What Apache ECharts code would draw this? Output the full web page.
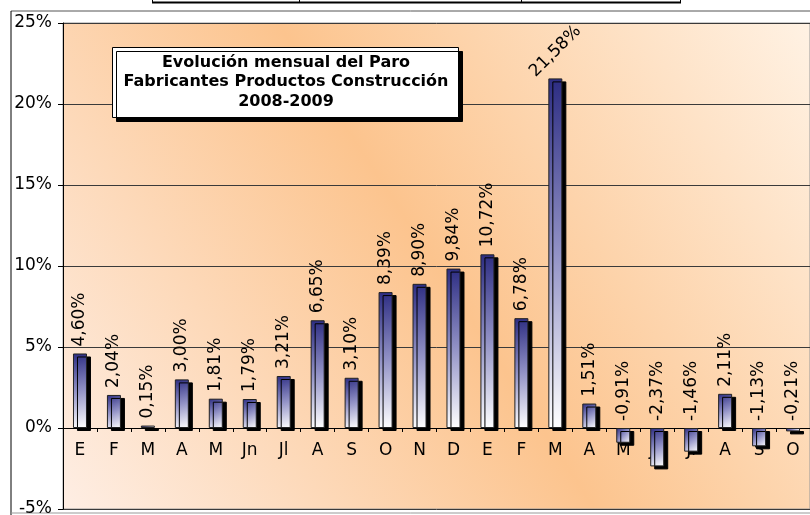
<!DOCTYPE html>
<html>
<head>
<meta charset="utf-8">
<script src="https://cdn.jsdelivr.net/npm/echarts@6/dist/echarts.min.js"></script>
<style>
  html, body { margin: 0; padding: 0; background: #fff; }
  #chart { width: 810px; height: 515px; }
</style>
</head>
<body>
<div id="chart"></div>
<script>
  // meses 2008-2009
  var months = ['E', 'F', 'M', 'A', 'M', 'Jn', 'Jl', 'A', 'S', 'O', 'N', 'D',
                'E', 'F', 'M', 'A', 'M', 'Jn', 'Jl', 'A', 'S', 'O'];
  var paro = [4.60, 2.04, 0.15, 3.00, 1.81, 1.79, 3.21, 6.65, 3.10, 8.39, 8.90, 9.84,
              10.72, 6.78, 21.58, 1.51, -0.91, -2.37, -1.46, 2.11, -1.13, -0.21];
  var titleLines = ['Evolución mensual del Paro', 'Fabricantes Productos Construcción', '2008-2009'];
  var yMin = -5, yMax = 25, yStep = 5;

  var font = 'DejaVu Sans, Verdana, sans-serif';
  var gridTop = 23, gridBottom = 6, chartH = 515;
  // el eje X va en el 0, no abajo
  var zeroOffset = -(chartH - gridTop - gridBottom) * (0 - yMin) / (yMax - yMin);

  /**
   * etiqueta con coma decimal
   */
  function pct(v) {
    return v.toFixed(2).replace('.', ',') + '%';
  }

  var barData = paro.map(function (v) {
    // la barra de marzo no cabe en vertical
    if (v > 20) {
      return {
        value: v,
        label: { rotate: 45, align: 'center', verticalAlign: 'middle', distance: 27 }
      };
    }
    return v;
  });

  var chart = echarts.init(document.getElementById('chart'));
  chart.setOption({
    animation: false,
    backgroundColor: '#fff',
    textStyle: { fontFamily: font },
    grid: {
      left: 63, right: 0, top: gridTop, bottom: gridBottom,
      containLabel: false,
      outerBoundsMode: 'none',
      show: true,
      borderColor: '#999',
      borderWidth: 1,
      backgroundColor: new echarts.graphic.LinearGradient(1, 0, 0, 1, [
        { offset: 0, color: '#fff2e4' },
        { offset: 0.5, color: '#fcc48e' },
        { offset: 1, color: '#feeee4' }
      ])
    },
    xAxis: {
      type: 'category',
      data: months,
      offset: zeroOffset,
      axisLine: { onZero: false, lineStyle: { color: '#000', width: 1 } },
      axisTick: { show: true, length: 4, lineStyle: { color: '#000' } },
      axisLabel: { color: '#000', fontSize: 17, margin: 14, interval: 0 },
      splitLine: { show: false }
    },
    yAxis: {
      type: 'value',
      min: yMin, max: yMax, interval: yStep,
      axisLine: { show: true, lineStyle: { color: '#000' } },
      axisTick: { show: true, length: 5, lineStyle: { color: '#000' } },
      axisLabel: { color: '#000', fontSize: 17, margin: 11, formatter: '{value}%' },
      splitLine: { lineStyle: { color: '#3a3a3a', width: 1 } }
    },
    series: [{
      type: 'bar',
      data: barData,
      barWidth: 14,
      itemStyle: {
        color: new echarts.graphic.LinearGradient(0, 0, 1, 1, [
          { offset: 0, color: '#2c2c82' },
          { offset: 0.5, color: '#9292c6' },
          { offset: 1, color: '#ffffff' }
        ]),
        borderColor: '#222',
        borderWidth: 1,
        shadowColor: '#000',
        shadowBlur: 0,
        shadowOffsetX: 4,
        shadowOffsetY: 3
      },
      label: {
        show: true,
        position: 'top',
        distance: 7,
        rotate: 90,
        align: 'left',
        verticalAlign: 'middle',
        color: '#000',
        fontSize: 17,
        formatter: function (p) { return pct(p.value); }
      }
    }],
    graphic: [
      // marco exterior
      { type: 'line', shape: { x1: 11, y1: 11, x2: 810, y2: 11 }, style: { stroke: '#555', lineWidth: 1 } },
      { type: 'line', shape: { x1: 11, y1: 11, x2: 11, y2: 515 }, style: { stroke: '#000', lineWidth: 1 } },
      { type: 'line', shape: { x1: 11, y1: 513, x2: 810, y2: 513 }, style: { stroke: '#999', lineWidth: 1 } },
      // resto de la tabla de arriba
      { type: 'line', shape: { x1: 152, y1: 2.5, x2: 681, y2: 2.5 }, style: { stroke: '#000', lineWidth: 2 } },
      { type: 'line', shape: { x1: 152.5, y1: 0, x2: 152.5, y2: 3 }, style: { stroke: '#000', lineWidth: 1 } },
      { type: 'line', shape: { x1: 299.5, y1: 0, x2: 299.5, y2: 3 }, style: { stroke: '#000', lineWidth: 1 } },
      { type: 'line', shape: { x1: 521.5, y1: 0, x2: 521.5, y2: 3 }, style: { stroke: '#000', lineWidth: 1 } },
      { type: 'line', shape: { x1: 680.5, y1: 0, x2: 680.5, y2: 3 }, style: { stroke: '#000', lineWidth: 1 } },
      // recuadro del titulo
      {
        type: 'rect', z: 100,
        shape: { x: 112.5, y: 47.5, width: 346, height: 70 },
        style: { fill: '#fff', stroke: '#000', lineWidth: 1, shadowColor: '#000', shadowOffsetX: 4, shadowOffsetY: 4, shadowBlur: 0 }
      },
      {
        type: 'text', z: 101,
        style: {
          text: titleLines.join('\n'),
          x: 286, y: 53,
          textAlign: 'center',
          textVerticalAlign: 'top',
          font: 'bold 16px ' + font,
          lineHeight: 19.5,
          fill: '#000'
        }
      }
    ]
  });
</script>
</body>
</html>
